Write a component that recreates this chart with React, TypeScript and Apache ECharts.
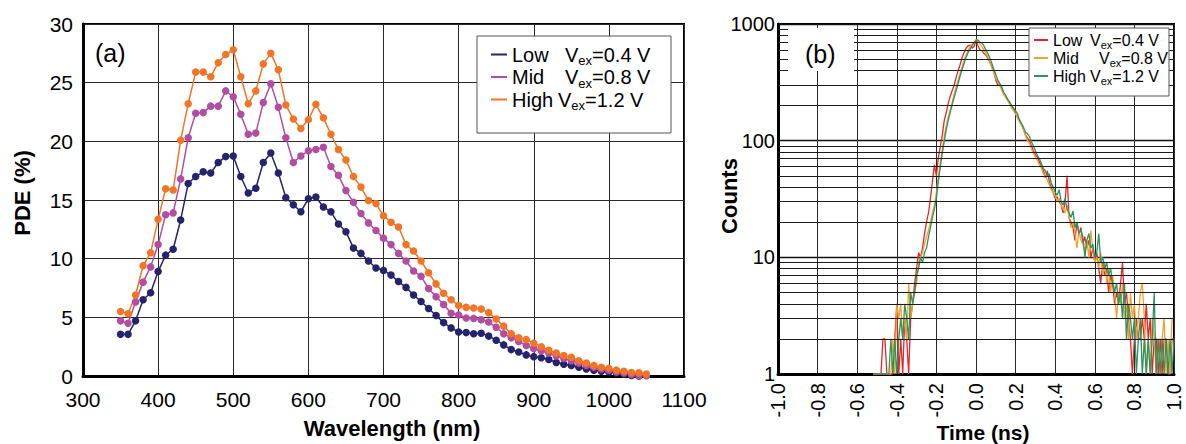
import React, { useEffect, useRef } from "react";
import * as echarts from "echarts";

const FONT = '"Liberation Sans", Arial, Helvetica, sans-serif';

// ---------- (a) PDE vs wavelength ----------
const wavelengths = [
  350, 360, 370, 380, 390, 400, 410, 420, 430, 440,
  450, 460, 470, 480, 490, 500, 510, 520, 530, 540,
  550, 560, 570, 580, 590, 600, 610, 620, 630, 640,
  650, 660, 670, 680, 690, 700, 710, 720, 730, 740,
  750, 760, 770, 780, 790, 800, 810, 820, 830, 840,
  850, 860, 870, 880, 890, 900, 910, 920, 930, 940,
  950, 960, 970, 980, 990, 1000, 1010, 1020, 1030, 1040,
  1050,
];
const pdeLow = [
  3.55, 3.55, 4.7, 6.5, 7.1, 8.9, 10.3, 10.8, 13.3, 16.4,
  17.0, 17.4, 17.3, 18.2, 18.7, 18.75, 17.0, 15.6, 16.0, 18.2,
  19.0, 17.3, 15.2, 14.6, 14.0, 15.1, 15.25, 14.4, 14.0, 12.95,
  12.3, 10.9, 10.45, 9.8, 9.2, 9.0, 8.6, 8.05, 7.55, 6.9,
  6.35, 5.75, 5.15, 4.55, 4.1, 3.75, 3.7, 3.6, 3.65, 3.4,
  3.05, 2.65, 2.25, 2.05, 1.8, 1.65, 1.55, 1.4, 1.15, 1.0,
  0.9, 0.75, 0.6, 0.5, 0.4, 0.35, 0.25, 0.15, 0.05, 0.0,
  null,
];
const pdeMid = [
  4.7, 4.5, 6.3, 8.0, 9.3, 11.2, 13.75, 13.9, 16.8, 20.3,
  22.4, 22.45, 23.0, 23.0, 24.3, 23.8, 22.3, 20.6, 20.7, 23.3,
  24.9, 22.9, 20.3, 18.2, 18.75, 19.2, 19.3, 19.5, 17.85, 17.1,
  15.8, 14.8, 13.85, 13.05, 12.4, 11.75, 11.2, 10.45, 9.8, 8.95,
  8.5, 7.45, 6.75, 6.1, 5.35, 5.2, 4.95, 4.9, 4.8, 4.6,
  4.15, 3.6, 3.25, 2.95, 2.6, 2.35, 2.15, 1.95, 1.7, 1.5,
  1.3, 1.1, 0.9, 0.75, 0.6, 0.5, 0.35, 0.25, 0.12, 0.05,
  0.03,
];
const pdeHigh = [
  5.5, 5.3, 6.9, 9.4, 10.5, 13.35, 15.95, 15.85, 20.1, 23.2,
  25.9, 25.9, 25.5, 26.7, 27.4, 27.8, 25.5, 23.2, 24.3, 26.6,
  27.5, 26.1, 23.1, 21.9, 21.1, 21.85, 23.15, 22.0, 20.6, 19.3,
  18.4, 17.0, 16.1, 14.95, 14.7, 13.65, 13.1, 12.7, 11.2, 10.65,
  9.8, 8.8, 7.85, 7.05, 6.5, 6.0, 5.85, 5.8, 5.7, 5.4,
  4.85, 4.25, 3.6, 3.25, 3.1, 2.8, 2.5, 2.2, 1.95, 1.75,
  1.6, 1.3, 1.1, 0.9, 0.75, 0.65, 0.5, 0.4, 0.3, 0.28,
  0.17,
];

// ---------- (b) counts vs time ----------
const timeNs = [
  -0.52, -0.51, -0.5, -0.49, -0.48, -0.47, -0.46, -0.45, -0.44, -0.43,
  -0.42, -0.41, -0.4, -0.39, -0.38, -0.37, -0.36, -0.35, -0.34, -0.33,
  -0.32, -0.31, -0.3, -0.29, -0.28, -0.27, -0.26, -0.25, -0.24, -0.23,
  -0.22, -0.21, -0.2, -0.19, -0.18, -0.17, -0.16, -0.15, -0.14, -0.13,
  -0.12, -0.11, -0.1, -0.09, -0.08, -0.07, -0.06, -0.05, -0.04, -0.03,
  -0.02, -0.01, 0.0, 0.01, 0.02, 0.03, 0.04, 0.05, 0.06, 0.07,
  0.08, 0.09, 0.1, 0.11, 0.12, 0.13, 0.14, 0.15, 0.16, 0.17,
  0.18, 0.19, 0.2, 0.21, 0.22, 0.23, 0.24, 0.25, 0.26, 0.27,
  0.28, 0.29, 0.3, 0.31, 0.32, 0.33, 0.34, 0.35, 0.36, 0.37,
  0.38, 0.39, 0.4, 0.41, 0.42, 0.43, 0.44, 0.45, 0.46, 0.47,
  0.48, 0.49, 0.5, 0.51, 0.52, 0.53, 0.54, 0.55, 0.56, 0.57,
  0.58, 0.59, 0.6, 0.61, 0.62, 0.63, 0.64, 0.65, 0.66, 0.67,
  0.68, 0.69, 0.7, 0.71, 0.72, 0.73, 0.74, 0.75, 0.76, 0.77,
  0.78, 0.79, 0.8, 0.81, 0.82, 0.83, 0.84, 0.85, 0.86, 0.87,
  0.88, 0.89, 0.9, 0.91, 0.92, 0.93, 0.94, 0.95, 0.96, 0.97,
  0.98, 0.99, 1.0,
];
const countsLow = [
  1, 1, 1, 1, 1, 2, 2, 1, 1, 1,
  1, 2, 4, 1, 2, 1, 3, 2, 1, 3,
  4, 6, 8, 11, 10, 12, 16, 20, 24, 32,
  45, 62, 50, 72, 90, 112, 150, 175, 210, 240,
  270, 300, 350, 400, 450, 520, 570, 620, 650, 660,
  620, 640, 720, 650, 600, 590, 560, 540, 510, 470,
  430, 390, 330, 300, 300, 280, 250, 240, 225, 210,
  200, 185, 170, 160, 148, 138, 125, 112, 105, 100,
  90, 82, 76, 72, 66, 60, 56, 48, 55, 45,
  40, 36, 32, 33, 30, 28, 24, 30, 50, 22,
  20, 18, 14, 20, 16, 18, 13, 15, 12, 14,
  10, 12, 9, 11, 8, 6, 9, 7, 8, 5,
  7, 6, 4, 5, 4, 6, 9, 4, 5, 3,
  2, 1, 2, 3, 2, 2, 3, 2, 4, 2,
  3, 1, 2, 2, 1, 2, 1, 2, 2, 1,
  1, 2, 2,
];
const countsMid = [
  1, 1, 1, 1, 1, 1, 1, 1, 1, 1,
  2, 1, 4, 3, 4, 2, 3, 2, 6, 3,
  4, 5, 6, 9, 10, 11, 13, 15, 17, 20,
  24, 28, 36, 50, 65, 85, 110, 135, 160, 185,
  215, 250, 290, 330, 380, 430, 490, 540, 590, 640,
  670, 700, 740, 700, 680, 640, 600, 560, 520, 470,
  420, 380, 340, 320, 300, 270, 250, 235, 220, 205,
  190, 180, 170, 155, 145, 135, 125, 110, 100, 95,
  85, 78, 72, 68, 62, 58, 52, 50, 46, 42,
  38, 36, 34, 30, 32, 28, 26, 24, 28, 22,
  18, 20, 16, 12, 17, 14, 13, 11, 14, 10,
  17, 12, 9, 10, 8, 11, 7, 9, 6, 8,
  5, 7, 5, 3, 5, 4, 6, 3, 4, 2,
  5, 3, 4, 2, 3, 5, 6, 3, 1, 2,
  1, 3, 2, 1, 2, 1, 2, 3, 1, 2,
  1, 3, 3,
];
const countsHigh = [
  1, 1, 1, 1, 1, 1, 1, 1, 1, 2,
  1, 2, 1, 2, 3, 2, 4, 3, 2, 5,
  4, 5, 7, 8, 10, 9, 11, 12, 15, 18,
  22, 26, 32, 45, 60, 78, 100, 125, 150, 175,
  205, 235, 270, 310, 360, 410, 460, 520, 570, 610,
  650, 690, 720, 730, 700, 690, 650, 600, 560, 510,
  460, 410, 370, 330, 310, 290, 260, 245, 225, 215,
  200, 190, 180, 170, 150, 140, 130, 118, 115, 108,
  98, 90, 82, 75, 70, 64, 58, 55, 50, 52,
  43, 40, 36, 34, 38, 30, 28, 32, 26, 24,
  22, 25, 18, 20, 16, 17, 15, 10, 14, 16,
  12, 13, 10, 11, 16, 9, 10, 8, 9, 7,
  8, 6, 5, 6, 4, 5, 3, 6, 2, 4,
  3, 2, 3, 1, 2, 3, 1, 2, 1, 2,
  1, 2, 5, 1, 2, 1, 2, 1, 2, 1,
  2, 1, 2,
];
const minorCountGrid = [2, 3, 4, 5, 6, 7, 8, 9, 20, 30, 40, 50, 60, 70, 80, 90, 200, 300, 400, 500, 600, 700, 800, 900];

const legendA: Record<string, string> = {
  "Low a": "{l|Low}{v|V}{s|ex}{r|=0.4 V}",
  "Mid a": "{m|Mid}{v|V}{s|ex}{r|=0.8 V}",
  "High a": "{h|High}{v|V}{s|ex}{r|=1.2 V}",
};
const legendB: Record<string, string> = {
  "Low b": "{l|Low}{v|V}{s|ex}{r|=0.4 V}",
  "Mid b": "{m|Mid}{v|V}{s|ex}{r|=0.8 V}",
  "High b": "{h|High}{v|V}{s|ex}{r|=1.2 V}",
};

const C_NAVY = "#24236b";
const C_MAG = "#b24da2";
const C_ORA = "#f47425";
const C_RED = "#e8252b";
const C_YEL = "#f6a12c";
const C_GRN = "#2a9560";

function pairs(xs: number[], ys: (number | null)[]) {
  return xs.map((x, i) => [x, ys[i]]);
}

export default function App() {
  const ref = useRef<HTMLDivElement>(null);
  useEffect(() => {
    if (!ref.current) return;
    const chart = echarts.init(ref.current, null, { renderer: "svg" });
    const axisLine = { show: true, onZero: false, lineStyle: { color: "#000", width: 3 } };
    const split = { show: true, lineStyle: { color: "#2a2a2a", width: 1 } };
    const plain = (v: number) => String(v);
    const richA = (size: number, sub: number, lh: number, subLh: number, wl: number, wm: number, wh: number) => {
      const base = { fontSize: size, fontFamily: FONT, color: "#000", lineHeight: lh };
      return {
        l: { ...base, width: wl },
        m: { ...base, width: wm },
        h: { ...base, width: wh },
        v: { ...base },
        s: { fontSize: sub, fontFamily: FONT, color: "#000", lineHeight: subLh, verticalAlign: "bottom" },
        r: { ...base },
      };
    };
    const lineSeriesA = (name: string, data: any, color: string) => ({
      name,
      type: "line",
      xAxisIndex: 0,
      yAxisIndex: 0,
      data,
      symbol: "circle",
      symbolSize: 7.5,
      showSymbol: true,
      lineStyle: { width: 1.5, color },
      itemStyle: { color },
      z: 3,
    });
    const lineSeriesB = (name: string, data: any, color: string) => ({
      name,
      type: "line",
      xAxisIndex: 1,
      yAxisIndex: 1,
      data,
      showSymbol: false,
      symbol: "none",
      lineStyle: { width: 1.3, color },
      itemStyle: { color },
      z: 3,
    });
    const option: any = {
      animation: false,
      backgroundColor: "#fff",
      textStyle: { fontFamily: FONT },
      grid: [
        { left: 83, top: 24, width: 601, height: 352, show: true, borderColor: "#000", borderWidth: 2, backgroundColor: "transparent" },
        { left: 778, top: 24, width: 396, height: 350, show: true, borderColor: "#000", borderWidth: 2, backgroundColor: "transparent" },
      ],
      xAxis: [
        {
          gridIndex: 0, type: "value", min: 300, max: 1100, interval: 100,
          axisLine, axisTick: { show: false },
          axisLabel: { fontSize: 21, color: "#000", fontFamily: FONT, margin: 13, formatter: plain },
          splitLine: split,
        },
        {
          gridIndex: 1, type: "value", min: -1, max: 1, interval: 0.2,
          axisLine, axisTick: { show: false },
          axisLabel: {
            fontSize: 20, color: "#000", fontFamily: FONT, margin: 9, rotate: 90,
            formatter: (v: number) => (Math.abs(v) < 1e-9 ? "0.0" : v.toFixed(1)),
          },
          splitLine: split,
        },
      ],
      yAxis: [
        {
          gridIndex: 0, type: "value", min: 0, max: 30, interval: 5,
          axisLine, axisTick: { show: false },
          axisLabel: { fontSize: 21, color: "#000", fontFamily: FONT, margin: 10, formatter: plain },
          splitLine: split,
        },
        {
          gridIndex: 1, type: "log", logBase: 10, min: 1, max: 1000,
          axisLine, axisTick: { show: false },
          axisLabel: { fontSize: 20, color: "#000", fontFamily: FONT, margin: 3, formatter: plain },
          splitLine: { show: true, lineStyle: { color: "#111", width: 1.3 } },
        },
      ],
      legend: [
        {
          data: ["Low a", "Mid a", "High a"],
          orient: "vertical", left: 491, top: 44.5, padding: 0, itemGap: 0,
          icon: "rect", itemWidth: 16, itemHeight: 2,
          selectedMode: false, z: 120,
          formatter: (n: string) => legendA[n],
          textStyle: { fontFamily: FONT, fontSize: 20, color: "#000", rich: richA(20, 13, 25, 11, 53, 53, 46) },
        },
        {
          data: ["Low b", "Mid b", "High b"],
          orient: "vertical", left: 1034, top: 32, padding: 0, itemGap: 0,
          icon: "rect", itemWidth: 14, itemHeight: 2,
          selectedMode: false, z: 120,
          formatter: (n: string) => legendB[n],
          textStyle: { fontFamily: FONT, fontSize: 16, color: "#000", rich: richA(16, 11, 20, 8, 37, 46, 37) },
        },
      ],
      graphic: [
        { type: "rect", z: 100, shape: { x: 477, y: 36, width: 194, height: 97 }, style: { fill: "#fff", stroke: "#555", lineWidth: 1 } },
        { type: "rect", z: 100, shape: { x: 1029, y: 28, width: 140, height: 68 }, style: { fill: "#fff", stroke: "#555", lineWidth: 1 } },
        { type: "rect", z: 100, shape: { x: 788, y: 28, width: 66, height: 43 }, style: { fill: "#fff", stroke: null } },
        { type: "text", z: 101, x: 95, y: 53, style: { text: "(a)", fontSize: 25, fontFamily: FONT, fill: "#000", align: "left", textAlign: "left", verticalAlign: "middle", textVerticalAlign: "middle" } },
        { type: "text", z: 101, x: 805, y: 54, style: { text: "(b)", fontSize: 25, fontFamily: FONT, fill: "#000", align: "left", textAlign: "left", verticalAlign: "middle", textVerticalAlign: "middle" } },
        { type: "text", z: 101, x: 392, y: 428, style: { text: "Wavelength (nm)", fontSize: 22, fontWeight: "bold", fontFamily: FONT, fill: "#000", align: "center", textAlign: "center", verticalAlign: "middle", textVerticalAlign: "middle" } },
        { type: "text", z: 101, x: 983, y: 432, style: { text: "Time (ns)", fontSize: 21, fontWeight: "bold", fontFamily: FONT, fill: "#000", align: "center", textAlign: "center", verticalAlign: "middle", textVerticalAlign: "middle" } },
        { type: "text", z: 101, x: 22, y: 193, rotation: Math.PI / 2, style: { text: "PDE (%)", fontSize: 22, fontWeight: "bold", fontFamily: FONT, fill: "#000", align: "center", textAlign: "center", verticalAlign: "middle", textVerticalAlign: "middle" } },
        { type: "text", z: 101, x: 729, y: 196, rotation: Math.PI / 2, style: { text: "Counts", fontSize: 22, fontWeight: "bold", fontFamily: FONT, fill: "#000", align: "center", textAlign: "center", verticalAlign: "middle", textVerticalAlign: "middle" } },
      ],
      series: [
        lineSeriesA("Low a", pairs(wavelengths, pdeLow), C_NAVY),
        lineSeriesA("Mid a", pairs(wavelengths, pdeMid), C_MAG),
        lineSeriesA("High a", pairs(wavelengths, pdeHigh), C_ORA),
        {
          name: "_grid",
          type: "line",
          xAxisIndex: 1,
          yAxisIndex: 1,
          data: [[-1, 1]],
          symbol: "none",
          lineStyle: { opacity: 0 },
          z: 1,
          silent: true,
          markLine: {
            silent: true,
            symbol: "none",
            label: { show: false },
            lineStyle: { color: "#1a1a1a", width: 1, type: "solid" },
            data: minorCountGrid.map((v) => ({ yAxis: v })),
          },
        },
        lineSeriesB("Low b", pairs(timeNs, countsLow), C_RED),
        lineSeriesB("Mid b", pairs(timeNs, countsMid), C_YEL),
        lineSeriesB("High b", pairs(timeNs, countsHigh), C_GRN),
      ],
    };
    chart.setOption(option);
    return () => chart.dispose();
  }, []);
  return <div ref={ref} style={{ position: "absolute", left: 0, top: 0, width: 1186, height: 444 }} />;
}
